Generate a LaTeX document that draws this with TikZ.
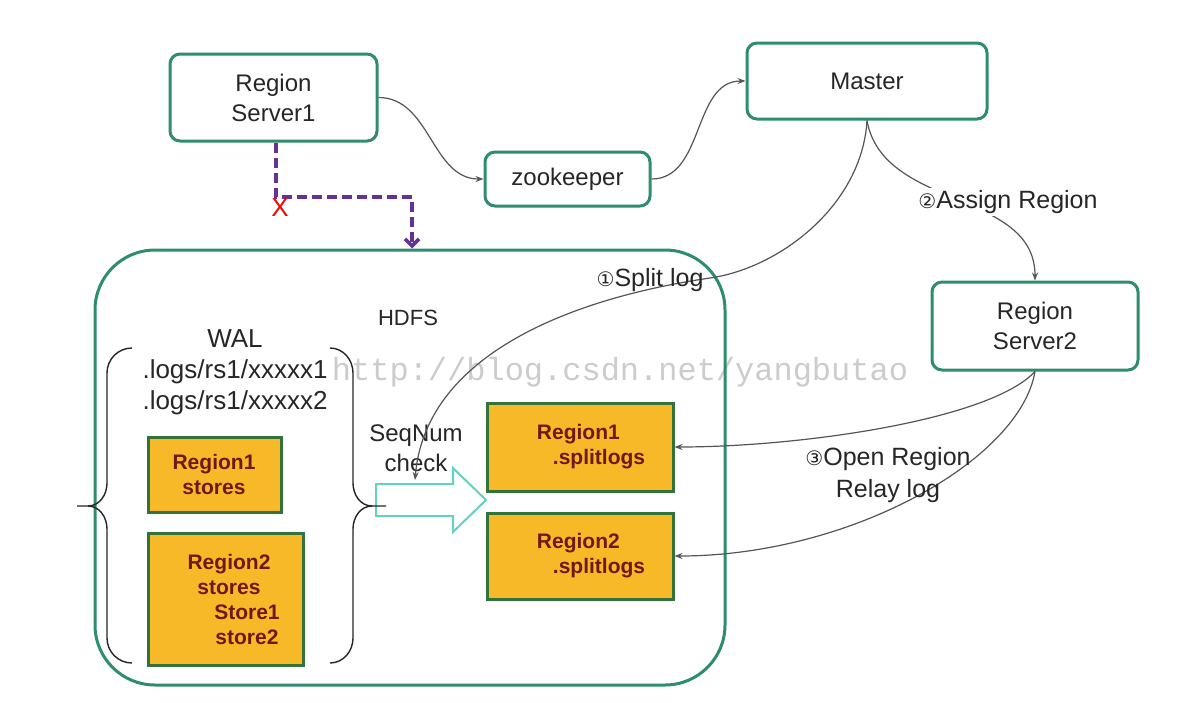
\documentclass[tikz,border=0pt]{standalone}
\usepackage{fontspec}
\setmainfont{Liberation Sans}
\newfontfamily\dejavu{DejaVu Sans}
\newfontfamily\wmfont{Liberation Mono}
\usetikzlibrary{arrows.meta}
\definecolor{tealb}{RGB}{46,140,112}
\definecolor{orangef}{RGB}{247,185,40}
\definecolor{orangeb}{RGB}{50,115,60}
\definecolor{maroonc}{RGB}{110,25,20}
\definecolor{arrowc}{RGB}{100,210,195}
\definecolor{purp}{RGB}{100,50,150}
\definecolor{lineg}{RGB}{85,85,85}
\begin{document}
\begin{tikzpicture}[x=0.5pt,y=-0.5pt,
 tealbox/.style={draw=tealb, line width=1.5pt, rounded corners=5pt, fill=white, align=center, font=\fontsize{12}{15}\selectfont, text=black!85},
 orangebox/.style={draw=orangeb, line width=1.5pt, fill=orangef},
 otext/.style={font=\fontsize{10.5}{12.5}\selectfont\bfseries, text=maroonc, align=center, inner sep=0pt},
 conn/.style={draw=lineg, line width=0.6pt, -{Stealth[length=4pt,width=3pt]}},
 lbl/.style={font=\fontsize{12.5}{16}\selectfont, align=center, inner sep=1pt, text=black!85},
 bracec/.style={draw=black!85, line width=0.7pt},
]
\useasboundingbox[fill=white] (0,0) rectangle (1188,702);

% watermark
\node[text=black!20, font=\wmfont\fontsize{16}{16}\selectfont, inner sep=0pt] (wm) at (620,372) {http://blog.csdn.net/yangbutao};

% HDFS container
\node[draw=tealb, line width=1.5pt, rounded corners=30pt, minimum width=315pt, minimum height=217.5pt] (hdfs) at (410,467.5) {};

% top boxes
\node[tealbox, minimum width=103.5pt, minimum height=43.5pt] (rs1) at (273.5,97.5) {Region\\Server1};
\node[tealbox, minimum width=82.5pt, minimum height=27pt] (zk) at (567.5,179) {zookeeper};
\node[tealbox, minimum width=120pt, minimum height=38pt] (master) at (867,81) {Master};
\node[tealbox, minimum width=103pt, minimum height=44pt] (rs2) at (1035,326) {Region\\Server2};

% orange boxes
\node[orangebox, minimum width=66.5pt, minimum height=37.5pt] (r1s) at (214.5,474.5) {};
\node[otext] (r1st) at (214,474) {Region1\\stores};
\node[orangebox, minimum width=77.5pt, minimum height=66pt] (r2s) at (225.5,599) {};
\node[otext] (r2st) at (229,599) {Region2\\stores\\\hspace*{18pt}Store1\\\hspace*{18pt}store2};
\node[orangebox, minimum width=93pt, minimum height=44pt] (r1sl) at (580,447) {};
\node[otext, align=left] (r1slt) at (591,447) {Region1\\\hspace*{8pt}.splitlogs};
\node[orangebox, minimum width=93pt, minimum height=43pt] (r2sl) at (580,556) {};
\node[otext, align=left] (r2slt) at (591,556) {Region2\\\hspace*{8pt}.splitlogs};

% texts in HDFS
\node[font=\fontsize{11}{13}\selectfont, text=black!85] (hdfsl) at (408,318) {HDFS};
\node[font=\fontsize{13}{15.5}\selectfont, align=center, text=black!85, inner sep=0pt] (wal) at (235,372) {WAL\\.logs/rs1/xxxxx1\\.logs/rs1/xxxxx2};

% hollow arrow
\draw[arrowc, line width=1pt, fill=white] (376,484) -- (453,484) -- (453,468) -- (486,500) -- (453,532) -- (453,516) -- (376,516) -- cycle;

% braces
\draw[bracec] (132,348) to[out=180,in=90] (107,373) -- (107,483) to[out=-90,in=0] (88,506) -- (77,506);
\draw[bracec] (88,506) to[out=0,in=90] (107,529) -- (107,638) to[out=-90,in=180] (132,663);
\draw[bracec] (330,348) to[out=0,in=90] (353,373) -- (353,483) to[out=-90,in=180] (372,506) -- (386,506);
\draw[bracec] (372,506) to[out=180,in=90] (353,529) -- (353,638) to[out=-90,in=0] (330,663);

\node[lbl, font=\fontsize{12}{15}\selectfont] (seq) at (416,448) {SeqNum\\check};

% connectors
\draw[conn] (rs1.east) to[out=0,in=180] (zk.west);
\draw[conn] (zk.east) to[out=0,in=180] (master.west);
\draw[conn] (master.south) to[out=-80,in=90] (rs2.north);
\coordinate (splitend) at (415,480);
\draw[conn] (master.south) .. controls (862,205) and (780,268) .. (710,278) .. controls (560,300) and (425,360) .. (splitend);
\draw[conn] (rs2.south) .. controls (990,420) and (800,447) .. (r1sl.east);
\draw[conn] (rs2.south) .. controls (1020,460) and (850,556) .. (r2sl.east);

% dashed failure path
\coordinate (dmid) at (412,197);
\draw[purp, line width=1.8pt, dash pattern=on 5pt off 2.5pt, -{Straight Barb[length=3.5pt,width=7pt]}] ([xshift=1.25pt]rs1.south) |- (dmid) -- (dmid |- hdfs.north);
\node[text=red, font=\fontsize{13}{13}\selectfont, inner sep=0pt] (xmark) at (280,208) {X};

% labels
\node[lbl] (splitl) at (650,280) {{\dejavu\fontsize{10}{10}\selectfont ①}Split log};
\node[lbl, fill=white] (assignl) at (1008,202) {{\dejavu\fontsize{10}{10}\selectfont ②}Assign Region};
\node[lbl] (openl) at (888,475) {{\dejavu\fontsize{10}{10}\selectfont ③}Open Region\\Relay log};
\end{tikzpicture}
\end{document}
